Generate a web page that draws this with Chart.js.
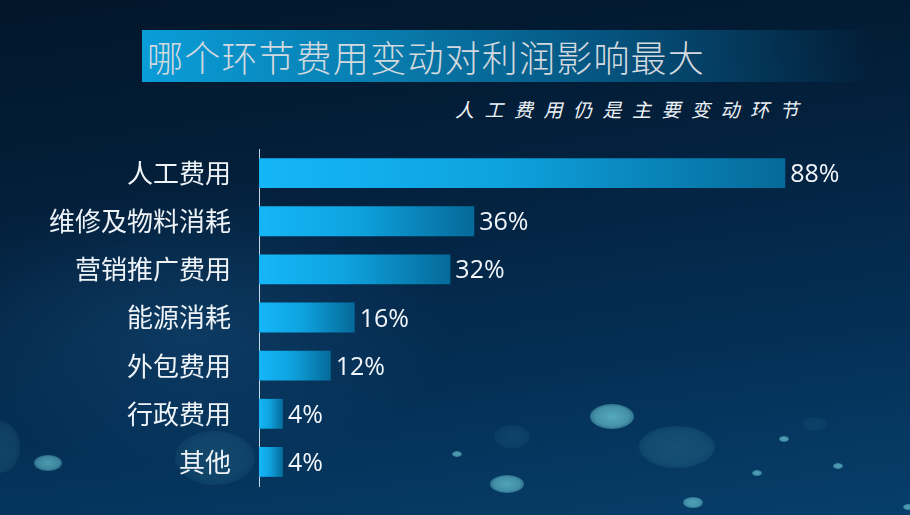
<!DOCTYPE html>
<html>
<head>
<meta charset="utf-8">
<script src="https://cdn.jsdelivr.net/npm/chart.js@4"></script>
<style>
  html, body { margin: 0; padding: 0; }
  body {
    width: 910px; height: 515px; overflow: hidden; position: relative;
    background:
      radial-gradient(ellipse 260px 140px at 190px 330px, rgba(30, 90, 140, 0.35), rgba(30, 90, 140, 0) 100%),
      linear-gradient(172deg, #021629 0%, #03203c 35%, #042d52 65%, #063f6b 100%);
    font-family: "Noto Sans CJK SC", sans-serif;
  }
  .bokeh { position: absolute; border-radius: 50%; }
  .titlebar {
    position: absolute; left: 142px; top: 30px; width: 730px; height: 52px;
    background: linear-gradient(90deg, #0a9dd8 0%, #087aab 35%, #05527d 65%, rgba(5, 55, 90, 0) 100%);
  }
  .title {
    position: absolute; left: 147px; top: 30px; height: 52px; line-height: 52px;
    font-size: 36px; font-weight: 300; color: #d3d9df; letter-spacing: 1.2px; white-space: nowrap;
  }
  .subtitle {
    position: absolute; left: 455px; top: 95px; font-size: 19px; font-style: italic;
    color: #eef3f8; letter-spacing: 10.5px; white-space: nowrap;
  }
  #costChart { position: absolute; left: 0; top: 0; }
</style>
</head>
<body>
<div id="bokeh"></div>
<div class="titlebar"></div>
<div class="title">哪个环节费用变动对利润影响最大</div>
<div class="subtitle">人工费用仍是主要变动环节</div>
<canvas id="costChart" width="910" height="515"></canvas>
<script>
  const categories = ["人工费用", "维修及物料消耗", "营销推广费用", "能源消耗", "外包费用", "行政费用", "其他"];
  const shareValues = [88, 36, 32, 16, 12, 4, 4];

  // background bokeh dots: [x, y, rx, ry, alpha]
  const dots = [
    [612, 416, 22, 12.5, 0.85], [677, 447, 38, 21, 0.18], [507, 484, 17, 9, 0.8],
    [457, 454, 5, 3, 0.8], [784, 439, 5, 3, 0.8], [757, 473, 5, 3, 0.8],
    [838, 466, 5, 3, 0.8], [693, 502, 10, 5.5, 0.8], [908, 507, 5, 3, 0.8],
    [512, 437, 18, 12, 0.1], [815, 424, 12, 7, 0.08], [48, 463, 14, 8, 0.75],
    [215, 458, 40, 27, 0.14], [0, 447, 20, 26, 0.14]
  ];
  const bokeh = document.getElementById('bokeh');
  dots.forEach(d => {
    const el = document.createElement('div');
    el.className = 'bokeh';
    el.style.left = (d[0] - d[2]) + 'px';
    el.style.top = (d[1] - d[3]) + 'px';
    el.style.width = d[2] * 2 + 'px';
    el.style.height = d[3] * 2 + 'px';
    el.style.background = 'radial-gradient(ellipse at center, rgba(100,190,205,' + d[4] + ') 0%, rgba(100,190,205,' + d[4] * 0.8 + ') 55%, rgba(100,190,205,0) 100%)';
    bokeh.appendChild(el);
  });

  function barGradient(context) {
    const chart = context.chart;
    if (!chart.chartArea) return '#14b4f4';
    const x0 = chart.scales.x.getPixelForValue(0);
    const x1 = chart.scales.x.getPixelForValue(context.raw);
    const g = chart.ctx.createLinearGradient(x0, 0, x1, 0);
    g.addColorStop(0, '#15b6f7');
    g.addColorStop(0.45, '#0ea3df');
    g.addColorStop(1, '#056a99');
    return g;
  }

  // value labels at the end of each bar
  const valueLabels = {
    id: 'valueLabels',
    afterDatasetsDraw(chart) {
      const ctx = chart.ctx;
      const meta = chart.getDatasetMeta(0);
      ctx.save();
      ctx.font = '25px "Open Sans", "Noto Sans", sans-serif';
      ctx.fillStyle = '#f2f6fa';
      ctx.textAlign = 'left';
      ctx.textBaseline = 'middle';
      meta.data.forEach((bar, i) => {
        ctx.fillText(shareValues[i] + '%', bar.x + 5, bar.y + 2);
      });
      ctx.restore();
    }
  };

  new Chart(document.getElementById('costChart'), {
    type: 'bar',
    data: {
      labels: categories,
      datasets: [{
        data: shareValues,
        backgroundColor: barGradient,
        borderWidth: 0,
        barPercentage: 0.62,
        categoryPercentage: 1
      }]
    },
    options: {
      indexAxis: 'y',
      responsive: false,
      animation: false,
      layout: { padding: { top: 149, bottom: 29, left: 0, right: 53 } },
      plugins: { legend: { display: false }, tooltip: { enabled: false } },
      scales: {
        x: { display: false, min: 0, max: 100 },
        y: {
          afterFit: function(scale) {
            scale.width = 259;
            scale.paddingTop = 0;
            scale.paddingBottom = 0;
          },
          grid: { display: false, drawTicks: false },
          border: { display: true, color: 'rgba(235,242,250,0.85)', width: 1 },
          ticks: {
            padding: 28,
            color: '#eef3f8',
            font: { family: '"Noto Sans CJK SC", sans-serif', size: 26 }
          }
        }
      }
    },
    plugins: [valueLabels]
  });
</script>
</body>
</html>
